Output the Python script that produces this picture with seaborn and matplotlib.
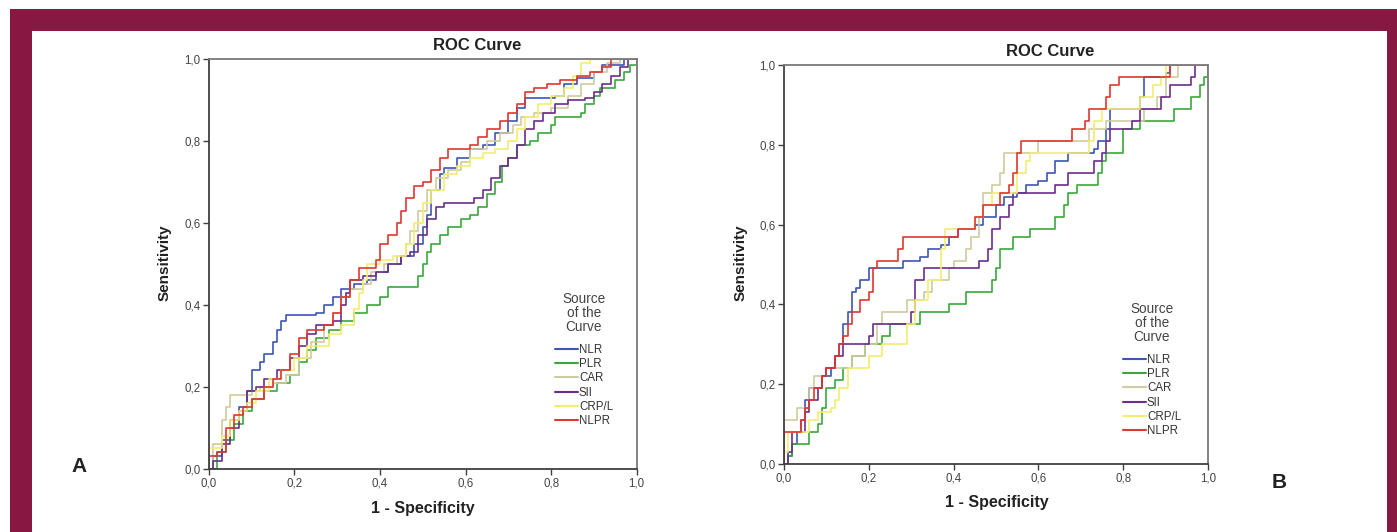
import matplotlib
matplotlib.use("Agg")
import matplotlib.pyplot as plt
from matplotlib.patches import Rectangle
import numpy as np
import pandas as pd
import seaborn as sns

# ---- data (1 - specificity, sensitivity) ----
sources = ["NLR", "PLR", "CAR", "SII", "CRP/L", "NLPR"]
colors = ["#3e55b5", "#3aa83a", "#cfcba0", "#6b2d8e", "#f3ee6e", "#e0362f"]
ticks = [0, 0.2, 0.4, 0.6, 0.8, 1.0]
tick_labels = ["0,0", "0,2", "0,4", "0,6", "0,8", "1,0"]

# panel A
a_nlr_x = [0, 0.01, 0.03, 0.05, 0.07, 0.09, 0.10, 0.12, 0.13, 0.15, 0.16, 0.17, 0.18, 0.25, 0.27, 0.29, 0.31, 0.34, 0.37, 0.39, 0.42, 0.45, 0.48, 0.50, 0.51, 0.52, 0.54, 0.55, 0.58, 0.61, 0.64, 0.67, 0.70, 0.72, 0.74, 0.81, 0.83, 0.86, 0.90, 0.92, 0.97, 1.0]
a_nlr_y = [0, 0.03, 0.07, 0.12, 0.15, 0.19, 0.24, 0.26, 0.28, 0.31, 0.34, 0.36, 0.375, 0.38, 0.40, 0.42, 0.44, 0.45, 0.46, 0.48, 0.50, 0.52, 0.55, 0.59, 0.62, 0.68, 0.72, 0.735, 0.76, 0.78, 0.79, 0.82, 0.85, 0.88, 0.905, 0.91, 0.94, 0.955, 0.97, 0.985, 1.0, 1.0]
a_plr_x = [0, 0.02, 0.04, 0.06, 0.08, 0.10, 0.13, 0.16, 0.19, 0.21, 0.23, 0.25, 0.28, 0.31, 0.34, 0.37, 0.40, 0.42, 0.48, 0.49, 0.50, 0.51, 0.52, 0.54, 0.56, 0.59, 0.61, 0.63, 0.65, 0.67, 0.685, 0.70, 0.72, 0.75, 0.77, 0.80, 0.81, 0.87, 0.88, 0.90, 0.915, 0.95, 0.97, 0.985, 1.0]
a_plr_y = [0, 0.04, 0.07, 0.11, 0.14, 0.17, 0.19, 0.21, 0.23, 0.26, 0.29, 0.32, 0.34, 0.36, 0.38, 0.40, 0.42, 0.445, 0.445, 0.47, 0.50, 0.53, 0.55, 0.57, 0.59, 0.61, 0.62, 0.64, 0.67, 0.70, 0.74, 0.76, 0.79, 0.80, 0.82, 0.84, 0.86, 0.87, 0.89, 0.91, 0.93, 0.95, 0.97, 0.985, 1.0]
a_car_x = [0, 0.01, 0.03, 0.04, 0.05, 0.08, 0.10, 0.12, 0.15, 0.18, 0.21, 0.24, 0.27, 0.29, 0.31, 0.33, 0.36, 0.38, 0.41, 0.44, 0.46, 0.47, 0.49, 0.51, 0.53, 0.56, 0.59, 0.61, 0.65, 0.68, 0.71, 0.73, 0.76, 0.80, 0.84, 0.87, 0.90, 0.93, 0.96, 1.0]
a_car_y = [0, 0.06, 0.12, 0.15, 0.18, 0.18, 0.19, 0.20, 0.21, 0.23, 0.27, 0.31, 0.35, 0.38, 0.42, 0.44, 0.45, 0.48, 0.50, 0.52, 0.55, 0.58, 0.63, 0.68, 0.71, 0.73, 0.75, 0.78, 0.80, 0.82, 0.84, 0.86, 0.87, 0.88, 0.91, 0.94, 0.97, 0.99, 1.0, 1.0]
a_sii_x = [0, 0.01, 0.03, 0.05, 0.07, 0.09, 0.11, 0.13, 0.16, 0.19, 0.21, 0.23, 0.25, 0.29, 0.31, 0.32, 0.33, 0.36, 0.39, 0.42, 0.45, 0.47, 0.49, 0.51, 0.53, 0.55, 0.60, 0.62, 0.64, 0.66, 0.68, 0.70, 0.72, 0.74, 0.76, 0.78, 0.81, 0.84, 0.88, 0.90, 0.92, 0.94, 0.96, 0.98, 1.0]
a_sii_y = [0, 0.02, 0.06, 0.10, 0.14, 0.19, 0.20, 0.22, 0.24, 0.27, 0.30, 0.33, 0.35, 0.36, 0.40, 0.43, 0.46, 0.47, 0.48, 0.50, 0.52, 0.53, 0.57, 0.61, 0.64, 0.65, 0.65, 0.66, 0.68, 0.71, 0.74, 0.76, 0.79, 0.83, 0.85, 0.87, 0.89, 0.90, 0.905, 0.92, 0.94, 0.96, 0.98, 1.0, 1.0]
a_crp_x = [0, 0.0, 0.03, 0.05, 0.07, 0.09, 0.11, 0.14, 0.17, 0.20, 0.23, 0.25, 0.28, 0.31, 0.34, 0.35, 0.36, 0.37, 0.40, 0.43, 0.46, 0.48, 0.50, 0.52, 0.55, 0.58, 0.61, 0.64, 0.67, 0.70, 0.72, 0.74, 0.77, 0.80, 0.83, 0.85, 0.87, 0.89, 1.0]
a_crp_y = [0, 0.05, 0.08, 0.12, 0.14, 0.16, 0.19, 0.22, 0.24, 0.27, 0.30, 0.30, 0.33, 0.35, 0.39, 0.43, 0.46, 0.50, 0.51, 0.52, 0.55, 0.60, 0.65, 0.68, 0.72, 0.74, 0.76, 0.77, 0.78, 0.80, 0.83, 0.86, 0.89, 0.91, 0.93, 0.96, 0.99, 1.0, 1.0]
a_nlpr_x = [0, 0.0, 0.02, 0.04, 0.06, 0.08, 0.10, 0.13, 0.15, 0.17, 0.19, 0.21, 0.23, 0.27, 0.29, 0.31, 0.33, 0.35, 0.39, 0.40, 0.42, 0.44, 0.45, 0.46, 0.48, 0.50, 0.52, 0.54, 0.56, 0.61, 0.63, 0.65, 0.68, 0.70, 0.72, 0.74, 0.76, 0.79, 0.82, 0.86, 0.89, 0.92, 0.94, 1.0]
a_nlpr_y = [0, 0.03, 0.04, 0.10, 0.13, 0.15, 0.17, 0.20, 0.22, 0.24, 0.28, 0.32, 0.34, 0.35, 0.38, 0.42, 0.46, 0.49, 0.51, 0.55, 0.57, 0.60, 0.63, 0.66, 0.69, 0.70, 0.73, 0.76, 0.78, 0.79, 0.81, 0.83, 0.85, 0.87, 0.89, 0.92, 0.93, 0.94, 0.95, 0.96, 0.97, 0.98, 1.0, 1.0]

# panel B
b_nlr_x = [0, 0.01, 0.02, 0.03, 0.04, 0.05, 0.06, 0.08, 0.09, 0.11, 0.12, 0.13, 0.14, 0.15, 0.16, 0.17, 0.18, 0.20, 0.27, 0.28, 0.32, 0.34, 0.37, 0.39, 0.41, 0.45, 0.47, 0.50, 0.52, 0.55, 0.57, 0.60, 0.62, 0.64, 0.67, 0.73, 0.74, 0.76, 0.77, 0.84, 0.85, 0.90, 0.91, 1.0]
b_nlr_y = [0, 0.02, 0.05, 0.08, 0.11, 0.16, 0.19, 0.19, 0.22, 0.24, 0.27, 0.30, 0.35, 0.38, 0.43, 0.44, 0.46, 0.49, 0.49, 0.51, 0.52, 0.54, 0.55, 0.57, 0.59, 0.60, 0.62, 0.65, 0.67, 0.68, 0.70, 0.71, 0.73, 0.76, 0.78, 0.79, 0.81, 0.84, 0.89, 0.92, 0.97, 0.98, 1.0, 1.0]
b_plr_x = [0, 0.01, 0.02, 0.05, 0.06, 0.08, 0.09, 0.10, 0.12, 0.14, 0.16, 0.19, 0.23, 0.25, 0.30, 0.32, 0.38, 0.39, 0.43, 0.48, 0.49, 0.50, 0.51, 0.54, 0.58, 0.64, 0.66, 0.67, 0.69, 0.73, 0.74, 0.75, 0.76, 0.79, 0.80, 0.84, 0.88, 0.92, 0.96, 0.98, 0.99, 1.0]
b_plr_y = [0, 0.02, 0.05, 0.05, 0.08, 0.10, 0.14, 0.19, 0.21, 0.24, 0.27, 0.30, 0.32, 0.35, 0.35, 0.38, 0.38, 0.40, 0.43, 0.43, 0.46, 0.49, 0.54, 0.57, 0.59, 0.62, 0.65, 0.68, 0.70, 0.70, 0.73, 0.76, 0.78, 0.78, 0.84, 0.86, 0.86, 0.89, 0.92, 0.95, 0.97, 1.0]
b_car_x = [0, 0.0, 0.02, 0.03, 0.05, 0.06, 0.07, 0.10, 0.14, 0.16, 0.19, 0.22, 0.23, 0.28, 0.29, 0.33, 0.35, 0.39, 0.40, 0.43, 0.44, 0.46, 0.47, 0.49, 0.51, 0.52, 0.58, 0.60, 0.70, 0.72, 0.76, 0.83, 0.85, 0.88, 0.90, 0.93, 1.0]
b_car_y = [0, 0.11, 0.11, 0.14, 0.14, 0.19, 0.22, 0.24, 0.24, 0.27, 0.30, 0.35, 0.38, 0.38, 0.41, 0.43, 0.46, 0.49, 0.51, 0.54, 0.57, 0.62, 0.68, 0.70, 0.73, 0.78, 0.78, 0.81, 0.81, 0.84, 0.86, 0.86, 0.89, 0.92, 0.97, 1.0, 1.0]
b_sii_x = [0, 0.01, 0.02, 0.04, 0.05, 0.06, 0.08, 0.09, 0.10, 0.12, 0.14, 0.19, 0.20, 0.21, 0.27, 0.30, 0.31, 0.33, 0.44, 0.46, 0.48, 0.49, 0.51, 0.53, 0.54, 0.62, 0.64, 0.67, 0.72, 0.73, 0.75, 0.76, 0.77, 0.80, 0.82, 0.84, 0.87, 0.89, 0.91, 0.96, 0.97, 1.0]
b_sii_y = [0, 0.03, 0.08, 0.08, 0.13, 0.16, 0.19, 0.22, 0.24, 0.27, 0.30, 0.30, 0.32, 0.35, 0.35, 0.38, 0.46, 0.49, 0.49, 0.51, 0.54, 0.59, 0.62, 0.65, 0.68, 0.68, 0.70, 0.73, 0.73, 0.76, 0.78, 0.81, 0.84, 0.84, 0.86, 0.89, 0.89, 0.92, 0.95, 0.97, 1.0, 1.0]
b_crp_x = [0, 0.0, 0.01, 0.03, 0.06, 0.08, 0.11, 0.12, 0.13, 0.15, 0.18, 0.20, 0.23, 0.28, 0.29, 0.31, 0.34, 0.36, 0.37, 0.38, 0.42, 0.45, 0.47, 0.49, 0.52, 0.55, 0.57, 0.58, 0.70, 0.72, 0.73, 0.75, 0.81, 0.84, 0.87, 0.89, 0.90, 1.0]
b_crp_y = [0, 0.03, 0.08, 0.08, 0.11, 0.13, 0.14, 0.16, 0.19, 0.24, 0.24, 0.27, 0.30, 0.30, 0.35, 0.41, 0.46, 0.46, 0.54, 0.59, 0.59, 0.62, 0.65, 0.68, 0.68, 0.73, 0.76, 0.78, 0.78, 0.81, 0.86, 0.89, 0.89, 0.92, 0.95, 0.97, 1.0, 1.0]
b_nlpr_x = [0, 0.0, 0.03, 0.04, 0.05, 0.06, 0.07, 0.09, 0.10, 0.12, 0.13, 0.14, 0.15, 0.16, 0.18, 0.20, 0.21, 0.22, 0.26, 0.27, 0.28, 0.40, 0.41, 0.45, 0.47, 0.50, 0.51, 0.53, 0.54, 0.55, 0.56, 0.67, 0.68, 0.71, 0.72, 0.74, 0.76, 0.77, 0.79, 0.90, 0.91, 1.0]
b_nlpr_y = [0, 0.08, 0.08, 0.11, 0.14, 0.16, 0.19, 0.22, 0.24, 0.27, 0.30, 0.32, 0.35, 0.38, 0.41, 0.43, 0.49, 0.51, 0.51, 0.54, 0.57, 0.57, 0.59, 0.62, 0.65, 0.65, 0.68, 0.70, 0.73, 0.78, 0.81, 0.81, 0.84, 0.86, 0.89, 0.89, 0.92, 0.95, 0.97, 0.97, 1.0, 1.0]

panel_a = {"NLR": (a_nlr_x, a_nlr_y), "PLR": (a_plr_x, a_plr_y), "CAR": (a_car_x, a_car_y),
           "SII": (a_sii_x, a_sii_y), "CRP/L": (a_crp_x, a_crp_y), "NLPR": (a_nlpr_x, a_nlpr_y)}
panel_b = {"NLR": (b_nlr_x, b_nlr_y), "PLR": (b_plr_x, b_plr_y), "CAR": (b_car_x, b_car_y),
           "SII": (b_sii_x, b_sii_y), "CRP/L": (b_crp_x, b_crp_y), "NLPR": (b_nlpr_x, b_nlpr_y)}


def to_long(panel):
    rows = []
    for name, (xs, ys) in panel.items():
        for i, (x, y) in enumerate(zip(xs, ys)):
            rows.append({"fpr": x, "tpr": y, "source": name, "order": i})
    return pd.DataFrame(rows)


sns.set_theme(style="white")
plt.rcParams["font.family"] = ["Liberation Sans", "DejaVu Sans"]

W, H = 1397, 532
fig = plt.figure(figsize=(W / 100, H / 100), dpi=100)
fig.patch.set_facecolor("white")

# maroon frame (kept behind the axes)
maroon = "#861842"
fig.patches.append(Rectangle((10 / W, 0), (W - 10) / W, (H - 9) / H, transform=fig.transFigure,
                             facecolor=maroon, edgecolor="none", zorder=-10))
fig.patches.append(Rectangle((32 / W, 0), (1387 - 32) / W, (H - 31) / H, transform=fig.transFigure,
                             facecolor="white", edgecolor="none", zorder=-9))

palette = dict(zip(sources, colors))


def draw_panel(rect, panel, title_xy, ylab_xy, xlab_xy, leg_title_xy, leg_xy):
    ax = fig.add_axes(rect)
    ax.set_facecolor("none")
    df = to_long(panel)
    sns.lineplot(data=df, x="fpr", y="tpr", hue="source", hue_order=sources, palette=palette,
                 estimator=None, sort=False, units="source", drawstyle="steps-post",
                 linewidth=1.2, legend=False, ax=ax)
    ax.set_xlim(0, 1)
    ax.set_ylim(0, 1)
    ax.set_xticks(ticks)
    ax.set_yticks(ticks)
    ax.set_xticklabels(tick_labels)
    ax.set_yticklabels(tick_labels)
    ax.tick_params(axis="both", direction="out", length=4, width=1, color="#404040",
                   labelsize=8.3, labelcolor="#444444", pad=2, bottom=True, left=True)
    ax.set_xlabel("")
    ax.set_ylabel("")
    for side in ["left", "bottom"]:
        ax.spines[side].set_color("#404040")
        ax.spines[side].set_linewidth(1.3)
    for side in ["top", "right"]:
        ax.spines[side].set_color("#7a7a7a")
        ax.spines[side].set_linewidth(1.3)

    fig.text(title_xy[0] / W, 1 - title_xy[1] / H, "ROC Curve", ha="center", va="center",
             fontsize=12, fontweight="bold", color="#222222")
    fig.text(ylab_xy[0] / W, 1 - ylab_xy[1] / H, "Sensitivity", ha="center", va="center",
             rotation=90, fontsize=11, fontweight="bold", color="#222222")
    fig.text(xlab_xy[0] / W, 1 - xlab_xy[1] / H, "1 - Specificity", ha="center", va="center",
             fontsize=11.5, fontweight="bold", color="#222222")

    # legend title drawn as its own text so the gap to the entries can be set
    fig.text(leg_title_xy[0] / W, 1 - leg_title_xy[1] / H, "Source\nof the\nCurve", ha="center",
             va="top", multialignment="center", linespacing=1.02, fontsize=9.8, color="#444444")
    handles = ax.get_lines()[:len(sources)]
    leg = ax.legend(handles, sources, loc="upper center",
                    bbox_to_anchor=(leg_xy[0] / W, 1 - leg_xy[1] / H), bbox_transform=fig.transFigure,
                    frameon=False, fontsize=8.3, handlelength=2.0,
                    handletextpad=0.1, labelspacing=0.2, borderpad=0)
    for t in leg.get_texts():
        t.set_color("#333333")
    for ln in leg.get_lines():
        ln.set_linewidth(1.5)
    return ax


draw_panel([208.7 / W, (H - 468.7) / H, 428 / W, 409.4 / H], panel_a,
           (477, 46), (165, 263), (423, 509), (584, 292), (584, 338))
draw_panel([784 / W, (H - 464) / H, 424 / W, 399 / H], panel_b,
           (1050, 52), (741, 263), (997, 503), (1152, 302), (1152, 348))

fig.text(79 / W, 1 - 466 / H, "A", ha="center", va="center", fontsize=15, fontweight="bold", color="#222222")
fig.text(1279 / W, 1 - 483 / H, "B", ha="center", va="center", fontsize=15, fontweight="bold", color="#222222")

fig.savefig("out.png", dpi=100)
